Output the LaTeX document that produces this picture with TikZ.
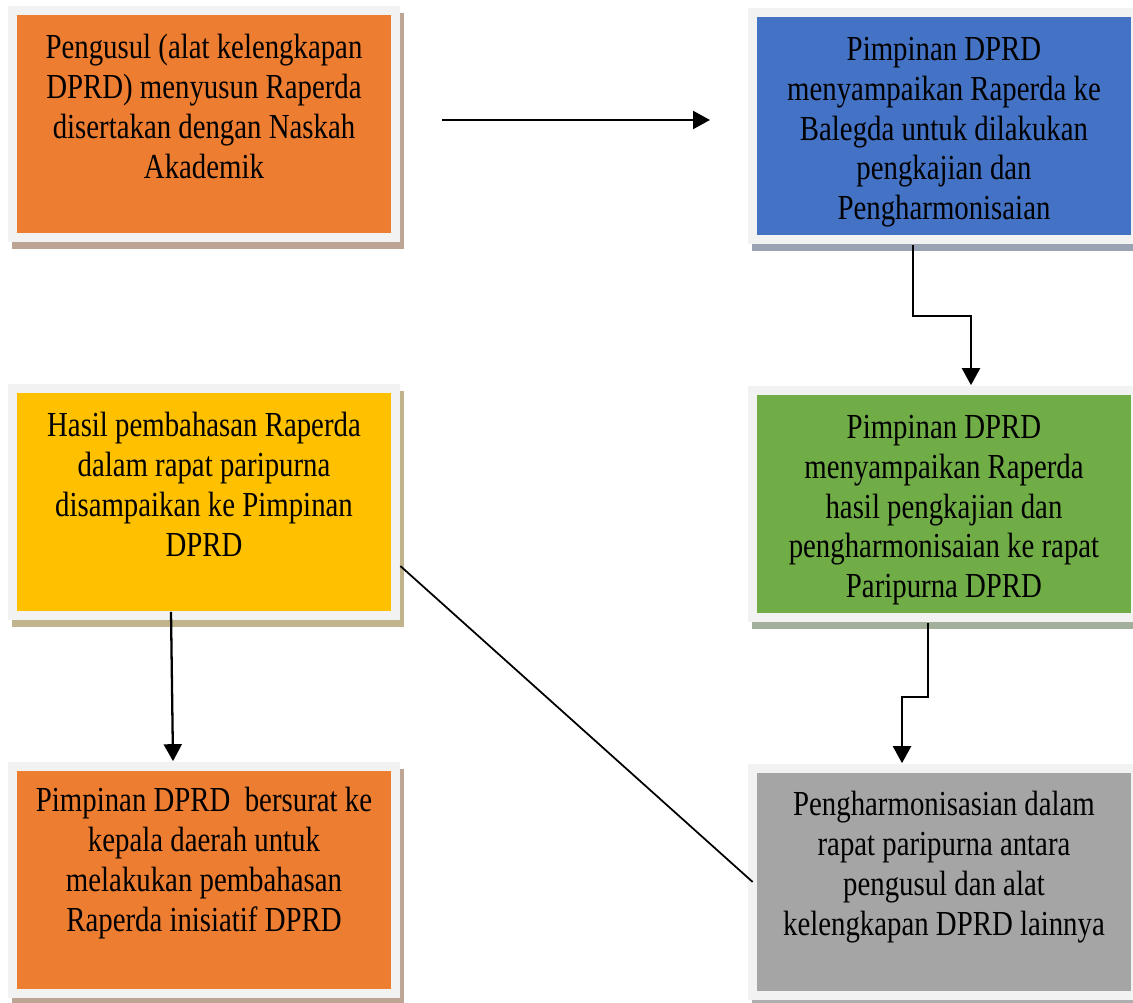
\documentclass[tikz,border=0pt]{standalone}
\usepackage{fontspec}
\setmainfont[FakeStretch=0.82]{Liberation Serif}
\usepackage{xcolor}
\usetikzlibrary{arrows.meta,positioning,shadows,calc}

\definecolor{boxorange}{HTML}{ED7D31}
\definecolor{boxblue}{HTML}{4472C4}
\definecolor{boxgreen}{HTML}{70AD47}
\definecolor{boxgray}{HTML}{A5A5A5}
\definecolor{boxyellow}{HTML}{FFC000}

\begin{document}
\begin{tikzpicture}[x=0.02cm, y=-0.02cm,
  box/.style={rectangle, fill=black!5, minimum width=7.84cm, minimum height=4.74cm, inner sep=0pt,
    drop shadow={shadow xshift=0.08cm, shadow yshift=-0.14cm, fill=#1!30!gray!70!white, opacity=1},
    path picture={\fill[#1] ([shift={(0.17cm,0.19cm)}]path picture bounding box.south west)
      rectangle ([shift={(-0.17cm,-0.19cm)}]path picture bounding box.north east);}},
  txt/.style={align=center, inner sep=0pt, font=\fontsize{20}{22.6}\selectfont},
  arr/.style={-{Triangle[width=0.36cm,length=0.34cm]}, line width=1.3pt}]
\clip (0,0) rectangle (1133,1003);

% Left column
\node[box=boxorange] (usul) at (204,124) {};
\node[txt, below=0.58cm of usul.north] {Pengusul (alat kelengkapan\\DPRD) menyusun Raperda\\disertakan dengan Naskah\\Akademik};

\node[box=boxyellow] (hasil) at (204,502) {};
\node[txt, below=0.58cm of hasil.north] {Hasil pembahasan Raperda\\dalam rapat paripurna\\disampaikan ke Pimpinan\\DPRD};

\node[box=boxorange] (surat) at (204,880) {};
\node[txt, below=0.52cm of surat.north] {Pimpinan DPRD\ \ bersurat ke\\kepala daerah untuk\\melakukan pembahasan\\Raperda inisiatif DPRD};

% Right column
\node[box=boxblue] (balegda) at (944,126) {};
\node[txt, below=0.6cm of balegda.north] {Pimpinan DPRD\\menyampaikan Raperda ke\\Balegda untuk dilakukan\\pengkajian dan\\Pengharmonisaian};

\node[box=boxgreen] (paripurna) at (944,504) {};
\node[txt, below=0.6cm of paripurna.north] {Pimpinan DPRD\\menyampaikan Raperda\\hasil pengkajian dan\\pengharmonisaian ke rapat\\Paripurna DPRD};

\node[box=boxgray] (harmon) at (944,882) {};
\node[txt, below=0.56cm of harmon.north] {Pengharmonisasian dalam\\rapat paripurna antara\\pengusul dan alat\\kelengkapan DPRD lainnya};

% Arrows
\coordinate (kirim) at (442,120);
\coordinate (terima) at (710,120);
\draw[arr] (kirim) -- (terima);
\draw[arr] ([xshift=-0.62cm]balegda.south) -- ++(0,71) -| ([xshift=0.54cm]paripurna.north);
\draw[arr] ([xshift=-0.32cm]paripurna.south) -- ++(0,74) -| ([xshift=-0.84cm]harmon.north);
\draw[arr] ([xshift=-0.66cm,yshift=0.18cm]hasil.south) -- ([xshift=-0.62cm]surat.north);
\draw[line width=1pt] ([yshift=-1.28cm]hasil.east) -- ([xshift=0.1cm]harmon.west);

\end{tikzpicture}
\end{document}
